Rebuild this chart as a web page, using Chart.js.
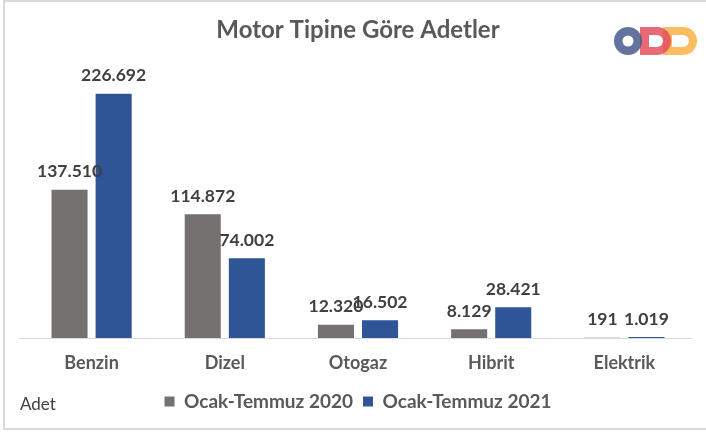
<!DOCTYPE html>
<html>
<head>
<meta charset="utf-8">
<script src="https://cdn.jsdelivr.net/npm/chart.js"></script>
<style>
  body { margin: 0; background: #fff; }
  #frame { position: absolute; left: 3px; top: 0; width: 720px; height: 426px; border: 2px solid #d9d9d9; }
  #wrap { position: absolute; left: 0; top: 0; width: 706px; height: 432px; }
</style>
</head>
<body>
<div id="frame"></div>
<div id="wrap"><canvas id="chart" width="706" height="432"></canvas></div>
<script>
// Motor tipine göre adetler
const categories = ['Benzin', 'Dizel', 'Otogaz', 'Hibrit', 'Elektrik'];
const seriesNames = ['Ocak-Temmuz 2020', 'Ocak-Temmuz 2021'];
const values2020 = [137510, 114872, 12320, 8129, 191];
const values2021 = [226692, 74002, 16502, 28421, 1019];

const FONT = 'Lato, "Open Sans", sans-serif';

function fmt(n) {
    return String(n).replace(/\B(?=(\d{3})+(?!\d))/g, '.');
}

// veri etiketleri
const labelPlugin = {
    id: 'barLabels',
    afterDatasetsDraw(chart) {
        const ctx = chart.ctx;
        ctx.save();
        ctx.font = 'bold 17.5px ' + FONT;
        ctx.fillStyle = '#404040';
        ctx.textAlign = 'center';
        ctx.textBaseline = 'middle';
        chart.data.datasets.forEach((ds, i) => {
            chart.getDatasetMeta(i).data.forEach((bar, j) => {
                ctx.fillText(fmt(ds.data[j]), bar.x, bar.y - 18);
            });
        });
        ctx.restore();
    }
};

// eksen çizgisi, "Adet" yazısı ve logo
const decoPlugin = {
    id: 'deco',
    afterDraw(chart) {
        const ctx = chart.ctx;
        const y0 = chart.scales.y.getPixelForValue(0);
        ctx.save();
        ctx.strokeStyle = '#d9d9d9';
        ctx.lineWidth = 1;
        ctx.beginPath();
        ctx.moveTo(19, Math.round(y0) + 0.5);
        ctx.lineTo(692, Math.round(y0) + 0.5);
        ctx.stroke();

        ctx.font = '17px ' + FONT;
        ctx.fillStyle = '#404040';
        ctx.textBaseline = 'middle';
        ctx.fillText('Adet', 20, 405);

        // ODD logo
        function dShape(x0, xc, cy, r, ri, hx, color) {
            ctx.fillStyle = color;
            ctx.beginPath();
            ctx.moveTo(x0, cy - r);
            ctx.lineTo(xc, cy - r);
            ctx.arc(xc, cy, r, -Math.PI / 2, Math.PI / 2);
            ctx.lineTo(x0, cy + r);
            ctx.closePath();
            ctx.moveTo(hx, cy - ri);
            ctx.lineTo(hx, cy + ri);
            ctx.lineTo(xc, cy + ri);
            ctx.arc(xc, cy, ri, Math.PI / 2, -Math.PI / 2, true);
            ctx.closePath();
            ctx.fill('evenodd');
        }
        ctx.globalAlpha = 0.85;
        dShape(663, 683, 41, 14, 6, 672, '#f9b347');
        dShape(640, 657, 41, 14, 6, 649, '#e4505e');
        ctx.fillStyle = '#4a5a8e';
        ctx.beginPath();
        ctx.arc(628, 41, 14, 0, Math.PI * 2);
        ctx.arc(628, 41, 5.5, 0, Math.PI * 2, true);
        ctx.fill();
        ctx.restore();
    }
};

new Chart(document.getElementById('chart').getContext('2d'), {
    type: 'bar',
    data: {
        labels: categories,
        datasets: [{
            label: seriesNames[0],
            data: values2020,
            backgroundColor: '#767171',
            categoryPercentage: 0.662,
            barPercentage: 0.818
        }, {
            label: seriesNames[1],
            data: values2021,
            backgroundColor: '#2f5597',
            categoryPercentage: 0.662,
            barPercentage: 0.818
        }]
    },
    options: {
        responsive: false,
        animation: false,
        layout: { padding: { left: 25, right: 15, top: 16, bottom: 11 } },
        plugins: {
            title: {
                display: true,
                text: 'Motor Tipine Göre Adetler',
                color: '#595959',
                font: { family: FONT, size: 24, weight: 'bold' },
                padding: { top: 0, bottom: 13 }
            },
            legend: {
                position: 'bottom',
                labels: {
                    color: '#595959',
                    font: { family: FONT, size: 19, weight: 'bold' },
                    boxWidth: 10,
                    boxHeight: 10,
                    padding: 10
                }
            },
            tooltip: { enabled: false }
        },
        scales: {
            x: {
                grid: { display: false, drawTicks: false },
                border: { display: false },
                ticks: {
                    color: '#595959',
                    font: { family: FONT, size: 18, weight: 'bold' },
                    padding: 14
                },
                afterFit(scale) { scale.height = 44; }
            },
            y: {
                display: false,
                min: 0,
                max: 260000
            }
        }
    },
    plugins: [labelPlugin, decoPlugin]
});
</script>
</body>
</html>
